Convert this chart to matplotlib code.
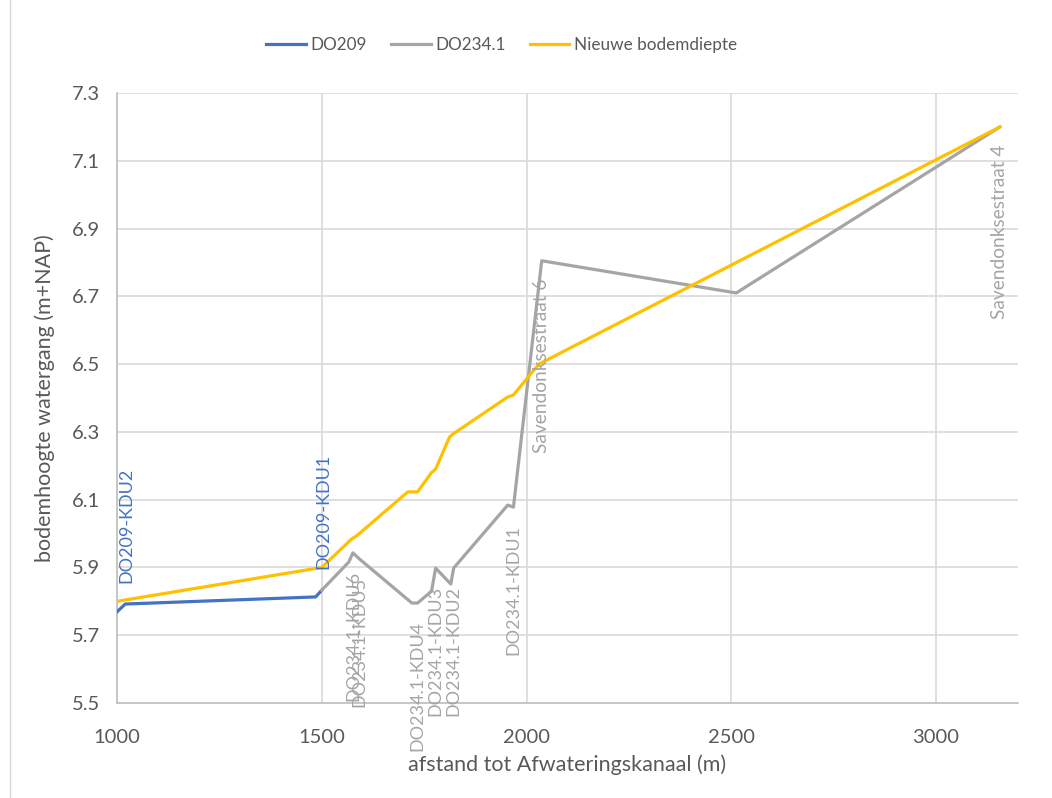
import matplotlib
matplotlib.use("Agg")
import matplotlib.pyplot as plt
from matplotlib.lines import Line2D

plt.rcParams['font.family'] = ['Lato', 'DejaVu Sans']

# Distance along the watercourse (m) and bottom level (m+NAP)
do209_x = [1000, 1020, 1485, 1500]
do209_y = [5.769, 5.792, 5.813, 5.833]
do209_labels = [None, "DO209-KDU2", None, "DO209-KDU1"]

do234_x = [1500, 1566, 1576, 1592, 1720, 1734, 1768, 1778, 1815, 1822,
           1954, 1968, 2037, 2512, 3156]
do234_y = [5.833, 5.916, 5.943, 5.925, 5.795, 5.795, 5.830, 5.898, 5.851, 5.898,
           6.084, 6.078, 6.805, 6.710, 7.200]
do234_labels = [None, None, "DO234.1-KDU6", "DO234.1-KDU5", None, "DO234.1-KDU4",
                 None, "DO234.1-KDU3", None, "DO234.1-KDU2", None, "DO234.1-KDU1",
                 "Savendonksestraat 6", None, "Savendonksestraat 4"]

new_x = [1000, 1500, 1573, 1585, 1710, 1734, 1768, 1778, 1812, 1822,
         1954, 1968, 2030, 3156]
new_y = [5.800, 5.900, 5.984, 5.993, 6.123, 6.123, 6.180, 6.190, 6.285, 6.295,
         6.403, 6.409, 6.500, 7.200]

x_ticks = [1000, 1500, 2000, 2500, 3000]
y_ticks = [5.5, 5.7, 5.9, 6.1, 6.3, 6.5, 6.7, 6.9, 7.1, 7.3]

BLUE = "#4472C4"
GREY = "#A5A5A5"
YELLOW = "#FFC000"
TXT = "#595959"
GRID = "#D9D9D9"

fig = plt.figure(figsize=(10.52, 7.98), dpi=100)
ax = fig.add_axes([117 / 1052, 1 - 703 / 798, (1018 - 117) / 1052, (703 - 93) / 798])

lw = 2.3
ax.plot(do209_x, do209_y, color=BLUE, lw=lw, solid_joinstyle='round', zorder=3)
ax.plot(do234_x, do234_y, color=GREY, lw=lw, solid_joinstyle='round', zorder=3)
ax.plot(new_x, new_y, color=YELLOW, lw=lw, solid_joinstyle='round', zorder=4)

for x, y, t in zip(do209_x, do209_y, do209_labels):
    if t:
        ax.annotate(t, (x, y), xytext=(1, 15), textcoords='offset points',
                    rotation=90, ha='center', va='bottom', color=BLUE,
                    fontsize=13, zorder=5, annotation_clip=False)
for x, y, t in zip(do234_x, do234_y, do234_labels):
    if t:
        fs = 13.8 if t.startswith("Savendonk") else 13
        ax.annotate(t, (x, y), xytext=(0, -13), textcoords='offset points',
                    rotation=90, ha='center', va='top', color=GREY,
                    fontsize=fs, zorder=5, annotation_clip=False)

ax.set_xlim(1000, 3200)
ax.set_ylim(5.5, 7.3)
ax.set_xticks(x_ticks)
ax.set_yticks(y_ticks)
ax.set_xticklabels([str(v) for v in x_ticks])
ax.set_yticklabels([f"{v:.1f}" for v in y_ticks])
ax.grid(True, color=GRID, lw=1.2, zorder=0)
ax.set_axisbelow(True)
for s in ("top", "right"):
    ax.spines[s].set_visible(False)
for s in ("left", "bottom"):
    ax.spines[s].set_color("#BFBFBF")
    ax.spines[s].set_linewidth(1.2)
ax.tick_params(length=0, labelsize=14.5, labelcolor=TXT)
ax.tick_params(axis='x', pad=19)
ax.tick_params(axis='y', pad=12)

ax.set_xlabel("afstand tot Afwateringskanaal (m)", fontsize=15.5, color=TXT, labelpad=6)
ax.set_ylabel("bodemhoogte watergang (m+NAP)", fontsize=15.5, color=TXT, labelpad=12)

handles = [Line2D([], [], color=BLUE, lw=lw),
           Line2D([], [], color=GREY, lw=lw),
           Line2D([], [], color=YELLOW, lw=lw)]
fig.legend(handles, ["DO209", "DO234.1", "Nieuwe bodemdiepte"],
           loc='center', bbox_to_anchor=(502 / 1052, 1 - 45 / 798), ncol=3,
           frameon=False, fontsize=12.3, labelcolor=TXT, handlelength=2.3,
           handletextpad=0.3, columnspacing=1.4)

# chart area border
fig.add_artist(Line2D([10 / 1052, 10 / 1052], [0, 1], color="#D9D9D9", lw=1.0,
                      transform=fig.transFigure))

fig.savefig("out.png", dpi=100)
